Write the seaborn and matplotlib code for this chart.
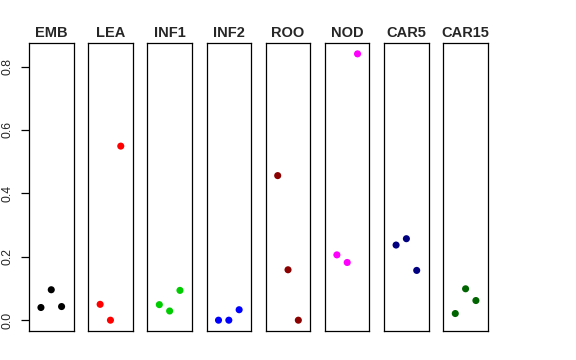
import numpy as np
import pandas as pd
import matplotlib
matplotlib.use("Agg")
import matplotlib.pyplot as plt
import seaborn as sns

# tissues, one panel each, three samples per tissue
tissues = ["EMB", "LEA", "INF1", "INF2", "ROO", "NOD", "CAR5", "CAR15"]
colors = ["black", "red", "#00CD00", "blue", "#8B0000", "magenta", "#000080", "#006400"]
sample = [1, 2, 3]
emb = [0.040, 0.096, 0.043]
lea = [0.050, 0.000, 0.549]
inf1 = [0.049, 0.029, 0.094]
inf2 = [0.000, 0.000, 0.033]
roo = [0.456, 0.159, 0.000]
nod = [0.206, 0.182, 0.840]
car5 = [0.237, 0.257, 0.157]
car15 = [0.021, 0.099, 0.062]

vals = [emb, lea, inf1, inf2, roo, nod, car5, car15]
df = pd.DataFrame({
    "tissue": np.repeat(tissues, 3),
    "sample": sample * len(tissues),
    "value": np.concatenate(vals),
})

sns.set_style("white")
plt.rcParams["font.family"] = ["Liberation Sans", "DejaVu Sans"]

fig, axes = plt.subplots(1, 8, figsize=(5.76, 3.6), dpi=100)
fig.subplots_adjust(left=0.0503, right=0.847, bottom=0.081, top=0.880, wspace=0.328)

ymin, ymax = 0.0, 0.84
pad = (ymax - ymin) * 0.04
yticks = [0.0, 0.2, 0.4, 0.6, 0.8]
for i, (ax, t) in enumerate(zip(axes, tissues)):
    sub = df[df["tissue"] == t]
    sns.scatterplot(data=sub, x="sample", y="value", color=colors[i], s=26,
                    edgecolor="none", ax=ax, legend=False)
    ax.set_xlim(-0.16, 4.16)
    ax.set_ylim(ymin - pad, ymax + pad)
    ax.set_title(t, fontsize=10.5, fontweight="bold", pad=4.5)
    ax.set_xlabel("")
    ax.set_ylabel("")
    ax.set_xticks([])
    for sp in ax.spines.values():
        sp.set_visible(True)
        sp.set_color("black")
        sp.set_linewidth(0.9)
    if i == 0:
        ax.set_yticks(yticks)
        ax.set_yticklabels([f"{v:.1f}" for v in yticks], rotation=90,
                           va="center", fontsize=8.7)
        ax.yaxis.set_ticks_position("left")
        ax.tick_params(axis="y", which="major", length=6, width=0.9,
                       color="black", pad=5)
    else:
        ax.set_yticks([])

fig.savefig("out.png", dpi=100, facecolor="white")
